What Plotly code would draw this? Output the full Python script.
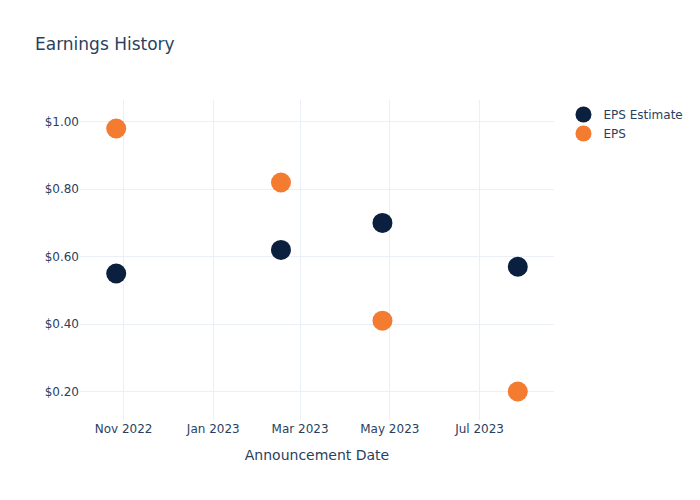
import plotly.graph_objects as go

dates = ["2022-10-27", "2023-02-16", "2023-04-26", "2023-07-27"]
eps_estimate = [0.55, 0.62, 0.70, 0.57]
eps_actual = [0.98, 0.82, 0.41, 0.20]

fig = go.Figure()
fig.add_trace(go.Scatter(x=dates, y=eps_estimate, mode="markers", name="EPS Estimate",
                         marker=dict(color="#0b1f3f", size=20)))
fig.add_trace(go.Scatter(x=dates, y=eps_actual, mode="markers", name="EPS",
                         marker=dict(color="#f47c30", size=20)))
fig.update_layout(
    template="plotly_white",
    width=700, height=500,
    font=dict(family="DejaVu Sans"),
    title=dict(text="Earnings History"),
    xaxis=dict(title=dict(text="Announcement Date"), tickformat="%b %Y", dtick="M2",
               tick0="2022-11-01"),
    yaxis=dict(tickprefix="$", tickformat=".2f"),
)
fig.write_html("out.html")
